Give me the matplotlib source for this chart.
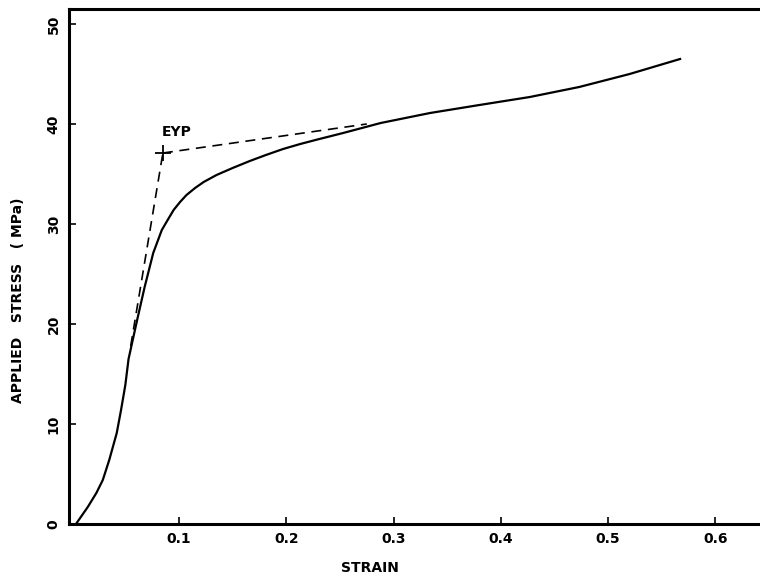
import numpy as np
import matplotlib.pyplot as plt

#### Stress-strain curve
strain = [0.004, 0.015, 0.023, 0.029, 0.035, 0.042, 0.046, 0.050, 0.053, 0.061,
          0.068, 0.076, 0.084, 0.090, 0.095, 0.101, 0.107, 0.115, 0.123, 0.135,
          0.150, 0.166, 0.181, 0.197, 0.213, 0.229, 0.253, 0.288, 0.334, 0.380,
          0.427, 0.473, 0.520, 0.567]
stress = [0.0, 1.7, 3.1, 4.4, 6.4, 9.1, 11.4, 13.9, 16.5, 20.4,
          23.7, 27.1, 29.4, 30.5, 31.4, 32.2, 32.9, 33.6, 34.2, 34.9,
          35.6, 36.3, 36.9, 37.5, 38.0, 38.45, 39.1, 40.1, 41.1, 41.9,
          42.7, 43.7, 45.0, 46.5]

# dashed construction lines through the extrapolated yield point
elastic_strain = [0.055, 0.085]
elastic_stress = [17.8, 37.1]
plastic_strain = [0.085, 0.275]
plastic_stress = [37.1, 40.0]
eyp = (0.085, 37.1)

xticks = [0.1, 0.2, 0.3, 0.4, 0.5, 0.6]
xticklabels = ['0.1', '0.2', '0.3', '0.4', '0.5', '0.6']
yticks = [0, 10, 20, 30, 40, 50]
yticklabels = ['0', '10', '20', '30', '40', '50']

plt.rcParams['font.family'] = ['DejaVu Sans']
fig = plt.figure(figsize=(7.6, 5.78), dpi=100)
ax = fig.add_axes([69 / 760, 1 - 524 / 578, 1 - 69 / 760, (524 - 9) / 578])

ax.plot(strain, stress, color='black', lw=1.6, solid_joinstyle='round')
ax.plot(elastic_strain, elastic_stress, color='black', lw=1.2, ls=(0, (6, 4)))
ax.plot(plastic_strain, plastic_stress, color='black', lw=1.2, ls=(0, (6, 4)))
ax.plot(*eyp, marker='+', color='black', ms=11, mew=1.3)
ax.text(eyp[0] - 0.001, 39.2, 'EYP', fontsize=10, fontweight='bold',
        ha='left', va='center')

ax.set_xlim(-0.0025, 0.6415)
ax.set_ylim(0, 51.5)

ax.set_xticks(xticks)
ax.set_xticklabels(xticklabels, fontsize=10, fontweight='bold')
ax.set_yticks(yticks)
ax.set_yticklabels(yticklabels, fontsize=10, fontweight='bold',
                   rotation=90, va='center')
ax.tick_params(direction='in', length=5, width=1.2, pad=6)

for side in ['left', 'bottom', 'top']:
    ax.spines[side].set_linewidth(2.2)
ax.spines['right'].set_visible(False)

fig.text(370 / 760, 1 - 568 / 578, 'STRAIN', fontsize=10, fontweight='bold',
         ha='center', va='center')
fig.text(18 / 760, 1 - 300 / 578, 'APPLIED   STRESS   ( MPa)', fontsize=10,
         fontweight='bold', rotation=90, ha='center', va='center')

fig.savefig('out.png', dpi=100)
